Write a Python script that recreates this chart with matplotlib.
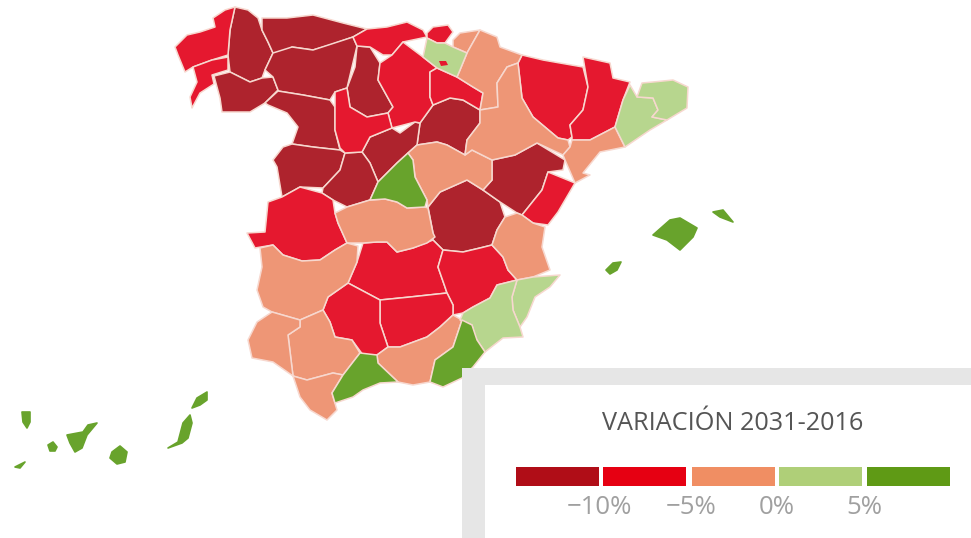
import matplotlib
matplotlib.use('Agg')
import matplotlib.pyplot as plt
from matplotlib.patches import Polygon, Rectangle

plt.rcParams['font.family'] = ['Open Sans', 'DejaVu Sans']

# colores de cada tramo (mapa y leyenda)
MAP_COLORS = ['#AE232D', '#E5182F', '#EE9676', '#B7D68E', '#68A32C']
KEY_COLORS = ['#B00D17', '#E60012', '#F08E63', '#AFCF78', '#5F9A15']
KEY_LABELS = ['\u221210%', '\u22125%', '0%', '5%']
TITLE = 'VARIACI\u00d3N 2031-2016'

# contornos de las provincias
coruna = [(175,47),(187,35),(200,32),(215,27),(213,18),(225,10),(235,7),(230,30),(228,55),(212,60),(193,67),(185,72),(178,55)]
pontevedra = [(228,57),(228,70),(212,75),(214,84),(200,93),(192,108),(190,97),(197,82),(193,67),(212,60)]
lugo = [(235,7),(248,10),(258,18),(262,30),(268,42),(273,53),(265,70),(262,78),(250,82),(230,72),(228,55),(230,30)]
ourense = [(214,76),(230,72),(250,82),(262,78),(273,77),(278,90),(265,103),(250,112),(222,112),(220,98)]
asturias = [(262,18),(287,18),(313,15),(343,23),(367,29),(353,37),(330,45),(313,50),(292,47),(285,52),(273,53),(268,42),(262,30)]
cantabria = [(367,29),(387,27),(407,22),(423,30),(427,37),(403,42),(392,55),(383,55),(370,47),(357,46),(353,37)]
bizkaia = [(427,33),(433,27),(448,25),(453,32),(445,43),(437,43),(427,38)]
gipuzkoa = [(453,40),(460,33),(480,30),(467,53),(453,47)]
alava = [(427,38),(437,43),(445,43),(453,47),(467,53),(460,70),(457,77),(437,68),(423,57)]
trevino = [(439,61),(446,61),(448,65),(441,66)]
burgos = [(403,42),(423,57),(437,68),(430,72),(430,97),(433,105),(420,123),(415,122),(392,128),(388,113),(393,107),(378,80),(380,63),(392,55)]
rioja = [(430,72),(437,68),(457,77),(473,87),(483,93),(480,110),(463,100),(450,98),(433,105),(430,97)]
palencia = [(357,46),(370,47),(380,63),(378,80),(393,107),(388,113),(367,117),(350,107),(347,88),(355,67)]
leon = [(273,53),(292,47),(313,50),(353,37),(357,46),(347,88),(335,92),(330,100),(303,95),(278,91),(278,90),(273,77),(265,70)]
zamora = [(265,103),(278,91),(303,95),(330,100),(335,107),(335,130),(340,150),(313,147),(292,144),(298,127),(287,113),(268,105)]
valladolid = [(335,92),(347,88),(350,107),(367,117),(388,113),(392,128),(370,137),(362,152),(345,153),(340,148),(335,130)]
soria = [(420,123),(433,105),(450,98),(463,100),(480,110),(480,123),(467,140),(465,155),(447,145),(437,142),(417,145)]
segovia = [(370,137),(392,128),(400,133),(415,122),(420,123),(417,145),(408,153),(397,163),(378,182),(370,163),(362,152)]
salamanca = [(292,144),(313,147),(340,150),(345,153),(340,170),(323,188),(300,187),(282,197),(277,167),(273,160),(283,147)]
avila = [(345,153),(362,152),(370,163),(378,182),(370,200),(347,207),(333,200),(322,193),(323,188),(340,170)]
madrid = [(408,153),(413,160),(415,177),(427,200),(425,207),(407,208),(397,202),(385,199),(370,200),(378,182),(397,163)]
guadalajara = [(417,145),(437,142),(447,145),(465,155),(472,150),(492,160),(492,180),(483,190),(467,180),(440,192),(428,207),(427,200),(415,177),(413,160),(408,153)]
toledo = [(335,213),(347,207),(370,200),(385,199),(397,202),(407,208),(425,207),(428,208),(433,233),(435,237),(427,243),(413,248),(397,252),(387,242),(377,242),(363,243),(347,243),(338,223)]
caceres = [(268,202),(282,197),(300,187),(322,193),(333,200),(335,213),(338,223),(347,243),(335,250),(320,260),(302,261),(283,255),(273,245),(255,248),(247,233),(265,232)]
badajoz = [(260,248),(273,245),(283,255),(302,261),(320,260),(335,250),(347,243),(358,246),(357,262),(348,283),(328,297),(323,310),(300,320),(272,312),(263,307),(257,290),(262,267)]
ciudad_real = [(363,243),(377,242),(387,242),(397,252),(413,248),(433,240),(443,250),(438,267),(445,287),(447,293),(410,297),(380,300),(348,283),(357,262)]
cuenca = [(428,207),(440,192),(467,180),(483,190),(500,202),(505,217),(497,230),(492,245),(480,248),(463,252),(443,250),(433,240),(433,233)]
albacete = [(443,250),(463,252),(480,248),(492,245),(503,257),(508,270),(517,280),(497,285),(490,298),(473,307),(463,313),(453,315),(453,305),(447,293),(445,287),(438,267)]
valencia = [(505,217),(517,213),(522,215),(533,223),(545,227),(542,247),(550,270),(533,277),(517,280),(508,270),(503,257),(492,245),(497,230)]
alicante = [(517,280),(533,277),(560,275),(550,287),(535,297),(527,317),(520,327),(513,310),(512,297)]
murcia = [(463,313),(473,307),(490,298),(497,285),(517,280),(512,297),(513,310),(520,327),(523,337),(503,338),(485,352),(475,337),(472,325),(460,320)]
almeria = [(462,320),(472,325),(477,340),(485,352),(473,367),(462,378),(443,387),(430,382),(435,360),(453,347),(457,335)]
granada = [(453,315),(462,320),(457,335),(453,347),(435,360),(430,382),(413,385),(398,382),(378,363),(377,355),(388,347),(400,347),(427,337),(440,327)]
jaen = [(380,300),(410,297),(447,293),(453,305),(453,315),(440,327),(427,337),(400,347),(388,347),(380,323)]
cordoba = [(348,283),(380,300),(380,323),(388,347),(377,355),(363,355),(352,340),(335,337),(330,322),(323,310),(328,297)]
malaga = [(360,353),(377,355),(378,363),(398,382),(380,383),(363,390),(353,397),(335,403),(332,393),(343,375)]
sevilla = [(300,320),(323,310),(330,322),(335,337),(352,340),(360,353),(343,375),(333,373),(307,380),(293,376),(288,335),(300,327)]
huelva = [(272,312),(300,320),(300,327),(288,335),(293,376),(273,362),(252,358),(248,340),(257,322)]
cadiz = [(293,376),(307,380),(333,373),(343,375),(332,393),(337,410),(327,420),(310,410),(300,397)]
navarra = [(467,53),(480,30),(497,37),(500,47),(522,55),(518,63),(507,67),(497,83),(498,107),(480,110),(483,93),(473,87),(457,77),(460,70)]
zaragoza = [(507,67),(518,63),(522,98),(533,117),(558,138),(568,140),(570,147),(563,155),(537,143),(515,155),(492,160),(472,150),(465,155),(467,140),(480,123),(480,110),(498,107),(497,83)]
huesca = [(522,55),(543,60),(560,63),(583,67),(588,87),(583,110),(570,125),(572,137),(568,140),(558,138),(533,117),(522,98),(518,63)]
lleida = [(583,57),(610,63),(613,78),(630,82),(623,100),(615,127),(590,140),(572,140),(572,137),(570,125),(583,110),(588,87)]
tarragona = [(572,140),(590,140),(615,127),(625,147),(600,152),(583,173),(590,175),(575,183),(565,160),(563,155),(570,147)]
barcelona = [(630,85),(637,97),(653,98),(658,110),(652,117),(667,120),(650,130),(625,147),(615,127),(623,100)]
girona = [(637,97),(642,83),(653,82),(673,80),(688,87),(687,108),(667,120),(652,117),(658,110),(653,98)]
teruel = [(492,160),(515,155),(537,143),(565,160),(563,170),(548,172),(542,190),(522,215),(517,213),(500,202),(483,190),(492,180)]
castellon = [(548,172),(575,183),(558,212),(548,225),(533,223),(522,215),(542,190)]

# islas
mallorca = [(653,235),(670,220),(680,218),(697,228),(693,237),(680,250),(667,240)]
menorca = [(713,212),(723,210),(733,222),(720,217)]
ibiza = [(606,270),(613,263),(621,262),(617,270),(610,274)]
la_palma = [(22,412),(30,412),(30,422),(27,428),(23,422)]
gomera = [(48,445),(53,442),(57,447),(55,451),(50,451)]
tenerife = [(67,435),(83,432),(88,425),(97,423),(87,435),(82,448),(75,452),(70,443)]
gran_canaria = [(112,452),(120,446),(127,452),(125,462),(117,464),(110,458)]
fuerteventura = [(168,448),(178,442),(183,423),(190,415),(192,423),(188,438),(182,443)]
lanzarote = [(192,408),(197,398),(207,392),(207,400),(200,405)]
hierro = [(15,467),(25,462),(20,468)]

# provincias por tramo (indice en MAP_COLORS)
CLASS_0 = [lugo, ourense, asturias, palencia, leon, zamora, soria, segovia, salamanca, avila, cuenca, teruel]
CLASS_1 = [coruna, pontevedra, cantabria, bizkaia, burgos, rioja, valladolid, caceres, ciudad_real, albacete,
           jaen, cordoba, huesca, lleida, castellon]
CLASS_2 = [gipuzkoa, guadalajara, toledo, badajoz, valencia, granada, sevilla, huelva, cadiz, navarra,
           zaragoza, tarragona]
CLASS_3 = [alava, alicante, murcia, barcelona, girona]
CLASS_4 = [madrid, almeria, malaga]
ISLANDS = [mallorca, menorca, ibiza, la_palma, gomera, tenerife, gran_canaria, fuerteventura, lanzarote, hierro]

fig = plt.figure(figsize=(9.71, 5.38), dpi=100)
ax = fig.add_axes([0, 0, 1, 1])
ax.set_xlim(0, 971)
ax.set_ylim(538, 0)
ax.axis('off')

# mapa
for idx, group in enumerate([CLASS_0, CLASS_1, CLASS_2, CLASS_3, CLASS_4]):
    for shape in group:
        ax.add_patch(Polygon(shape, closed=True, facecolor=MAP_COLORS[idx],
                             edgecolor='#F7D8CF', linewidth=1.1, joinstyle='round', zorder=2))
ax.add_patch(Polygon(trevino, closed=True, facecolor=MAP_COLORS[1], edgecolor='none', zorder=3))
for shape in ISLANDS:
    ax.add_patch(Polygon(shape, closed=True, facecolor=MAP_COLORS[4], edgecolor=MAP_COLORS[4],
                         linewidth=1.2, joinstyle='round', zorder=2))

# recuadro de la leyenda
ax.add_patch(Rectangle((462, 368), 520, 180, facecolor='#E6E6E6', edgecolor='none', zorder=4))
ax.add_patch(Rectangle((485, 385), 500, 160, facecolor='white', edgecolor='none', zorder=5))
ax.text(733, 423, TITLE, ha='center', va='center', fontsize=18.2, color='#555555', zorder=6)

key_left = [516, 603, 692, 779, 867]
for x0, col in zip(key_left, KEY_COLORS):
    ax.add_patch(Rectangle((x0, 467), 83, 19, facecolor=col, edgecolor='none', zorder=6))

label_x = [599, 691, 777, 864]
for x0, lab in zip(label_x, KEY_LABELS):
    ax.text(x0, 508, lab, ha='center', va='center', fontsize=18.5, color='#A0A0A0', zorder=6)

fig.savefig('out.png', dpi=100)
